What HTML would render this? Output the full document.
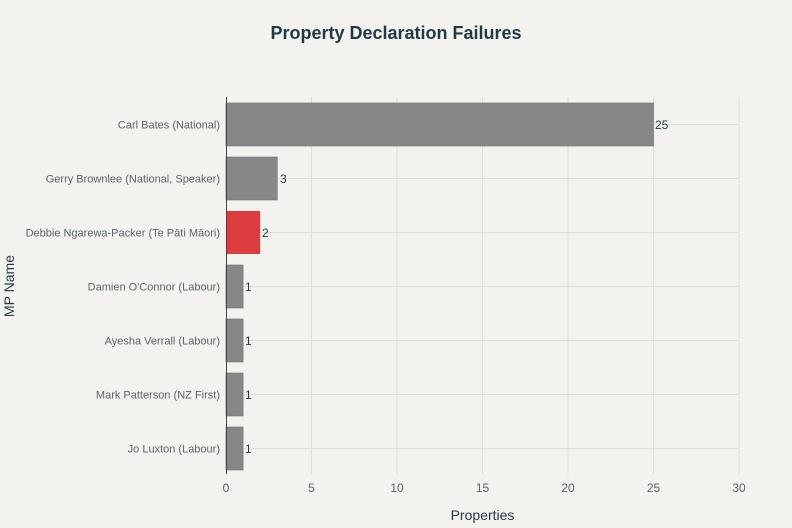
<!DOCTYPE html>
<html><head><meta charset="utf-8"><style>
body{margin:0;background:#f3f2ee;}
svg{display:block;font-family:"Liberation Sans",sans-serif;}
</style></head><body>
<svg width="792" height="528" viewBox="0 0 792 528">
<rect width="792" height="528" fill="#f3f2ee"/>
<text x="396" y="39" text-anchor="middle" font-size="18" font-weight="bold" fill="#1f3a44">Property Declaration Failures</text>
<g stroke="#e0dfd6" stroke-width="1">
<line x1="311.5" y1="97" x2="311.5" y2="474"/>
<line x1="397" y1="97" x2="397" y2="474"/>
<line x1="482.5" y1="97" x2="482.5" y2="474"/>
<line x1="568" y1="97" x2="568" y2="474"/>
<line x1="653.5" y1="97" x2="653.5" y2="474"/>
<line x1="739" y1="97" x2="739" y2="474"/>
<line x1="226" y1="124.5" x2="739" y2="124.5"/>
<line x1="226" y1="178.5" x2="739" y2="178.5"/>
<line x1="226" y1="232.5" x2="739" y2="232.5"/>
<line x1="226" y1="286.5" x2="739" y2="286.5"/>
<line x1="226" y1="340.5" x2="739" y2="340.5"/>
<line x1="226" y1="394.5" x2="739" y2="394.5"/>
<line x1="226" y1="448.5" x2="739" y2="448.5"/>
</g>
<g fill="#878787" stroke="#6f6f6f" stroke-width="0.6">
<rect x="226" y="103" width="427.5" height="43"/>
<rect x="226" y="157" width="51.3" height="43"/>
<rect x="226" y="265" width="17.1" height="43"/>
<rect x="226" y="319" width="17.1" height="43"/>
<rect x="226" y="373" width="17.1" height="43"/>
<rect x="226" y="427" width="17.1" height="43"/>
</g>
<rect x="226" y="211" width="34.2" height="43" fill="#dc3c3e"/>
<line x1="226.5" y1="97" x2="226.5" y2="474" stroke="#444" stroke-width="1"/>
<g font-size="12" fill="#1f3a44">
<text x="655" y="129">25</text><text x="280" y="183">3</text><text x="262" y="237">2</text>
<text x="245" y="291">1</text><text x="245" y="345">1</text><text x="245" y="399">1</text><text x="245" y="453">1</text>
</g>
<g font-size="11" fill="#5a6468" text-anchor="end">
<text x="220" y="128.5">Carl Bates (National)</text>
<text x="220" y="182.5">Gerry Brownlee (National, Speaker)</text>
<text x="220" y="236.5">Debbie Ngarewa-Packer (Te Pāti Māori)</text>
<text x="220" y="290.5">Damien O'Connor (Labour)</text>
<text x="220" y="344.5">Ayesha Verrall (Labour)</text>
<text x="220" y="398.5">Mark Patterson (NZ First)</text>
<text x="220" y="452.5">Jo Luxton (Labour)</text>
</g>
<g font-size="12" fill="#5a6468" text-anchor="middle">
<text x="226" y="492">0</text><text x="311.5" y="492">5</text><text x="397" y="492">10</text>
<text x="482.5" y="492">15</text><text x="568" y="492">20</text><text x="653.5" y="492">25</text><text x="739" y="492">30</text>
</g>
<text x="482.5" y="520" text-anchor="middle" font-size="14" fill="#1f3a44">Properties</text>
<text transform="translate(14,286) rotate(-90)" text-anchor="middle" font-size="14" fill="#1f3a44">MP Name</text>
</svg>
</body></html>
